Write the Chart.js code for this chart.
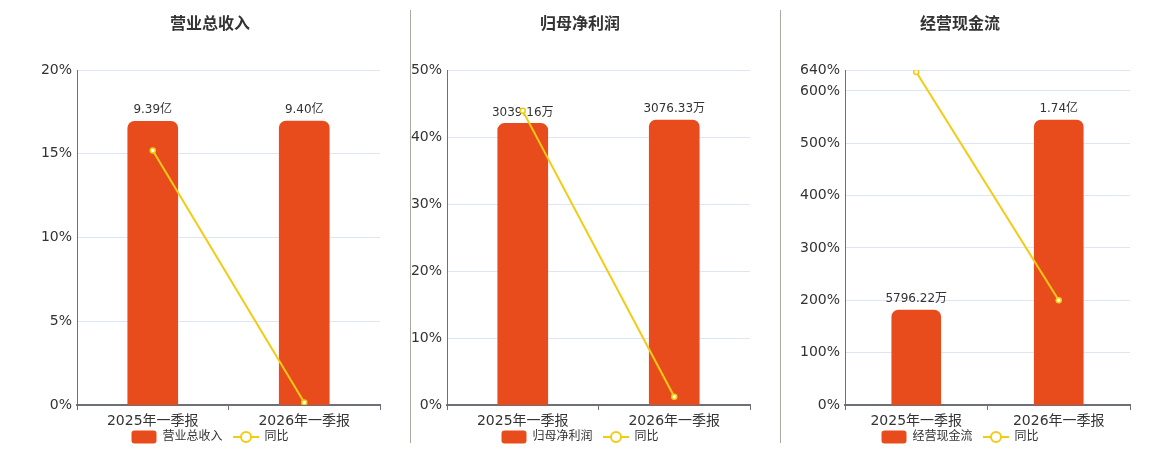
<!DOCTYPE html>
<html><head><meta charset="utf-8">
<script src="https://cdn.jsdelivr.net/npm/chart.js@4"></script>
<style>
html,body{margin:0;padding:0;background:#fff;width:1160px;height:450px;overflow:hidden;}
.p{position:absolute;top:0;height:450px;}
.div{position:absolute;top:10px;height:433px;width:1px;background:#aaa9a0;}
</style></head><body>
<div class="div" style="left:410px"></div>
<div class="div" style="left:780px"></div>
<div class="p" style="left:0;width:420px"><canvas id="c1"></canvas></div>
<div class="p" style="left:395px;width:370px"><canvas id="c2"></canvas></div>
<div class="p" style="left:780px;width:360px"><canvas id="c3"></canvas></div>
<script>
const categories = ['2025年一季报', '2026年一季报'];

const titles = ['营业总收入', '归母净利润', '经营现金流'];
// bar values (亿 / 万 / 万)
const revenueValues = [9.39, 9.40];
const profitValues = [3039.16, 3076.33];
const cashflowValues = [5796.22, 17400];
const revenueLabels = ['9.39亿', '9.40亿'];
const profitLabels = ['3039.16万', '3076.33万'];
const cashflowLabels = ['5796.22万', '1.74亿'];
// YoY %
const revenueYoY = [15.2, 0.15];
const profitYoY = [43.9, 1.22];
const cashflowYoY = [636, 200.2];
// y tick labels (%)
const revenueTicks = [0, 5, 10, 15, 20];
const profitTicks = [0, 10, 20, 30, 40, 50];
const cashflowTicks = [0, 100, 200, 300, 400, 500, 600, 640];

const BAR = '#E84C1C', LINE = '#F2CB13';
const FONT = '"DejaVu Sans","Noto Sans CJK SC",sans-serif';

function legendIcon(kind){
  const c = document.createElement('canvas');
  c.width = 26; c.height = 14;
  const x = c.getContext('2d');
  if (kind === 'bar') {
    x.fillStyle = BAR;
    x.beginPath(); x.roundRect(0.5, 0.5, 25, 13, 3); x.fill();
  } else {
    x.strokeStyle = LINE; x.lineWidth = 2;
    x.beginPath(); x.moveTo(0, 7); x.lineTo(26, 7); x.stroke();
    x.fillStyle = '#fff';
    x.beginPath(); x.arc(13, 7, 5, 0, Math.PI*2); x.fill(); x.stroke();
  }
  return c;
}

const labelPlugin = {
  id: 'barLabels',
  afterDatasetDraw(chart, args, opts) {
    if (args.index !== 0) return;
    const ctx = chart.ctx;
    ctx.save();
    ctx.font = '12px ' + FONT;
    ctx.fillStyle = '#333';
    ctx.textAlign = 'center';
    ctx.textBaseline = 'bottom';
    args.meta.data.forEach((el, i) => {
      ctx.fillText(opts.labels[i], el.x, el.y - 5);
    });
    ctx.restore();
  }
};

function make(id, title, bars, barLabels, yoy, ticks, barMax, leftW, rightW, barW) {
  new Chart(document.getElementById(id), {
    data: {
      labels: categories,
      datasets: [
        { type: 'bar', label: title, data: bars, yAxisID: 'y1', backgroundColor: BAR,
          barThickness: barW, borderRadius: {topLeft: 7, topRight: 7}, borderSkipped: 'bottom', order: 1 },
        { type: 'line', label: '同比', data: yoy, yAxisID: 'y', borderColor: LINE, borderWidth: 2,
          pointRadius: 2.5, pointBorderWidth: 1.5, pointBackgroundColor: '#fff', pointBorderColor: LINE,
          tension: 0, order: 0 }
      ]
    },
    options: {
      responsive: true, maintainAspectRatio: false, animation: false,
      layout: { padding: { left: 0, right: 0, top: 0, bottom: -3 } },
      plugins: {
        tooltip: { enabled: false },
        barLabels: { labels: barLabels },
        title: { display: true, text: title, color: '#333', font: { family: FONT, size: 16, weight: 'bold' },
          padding: { top: 15, bottom: 35.8 } },
        legend: {
          position: 'bottom',
          labels: {
            usePointStyle: true, pointStyleWidth: 25, padding: 11, color: '#333',
            font: { family: FONT, size: 12 },
            generateLabels: () => [
              { text: title, pointStyle: legendIcon('bar'), fillStyle: BAR, strokeStyle: BAR, lineWidth: 0, fontColor: '#333', datasetIndex: 0 },
              { text: '同比', pointStyle: legendIcon('line'), fillStyle: LINE, strokeStyle: LINE, lineWidth: 0, fontColor: '#333', datasetIndex: 1 }
            ]
          }
        }
      },
      scales: {
        x: {
          afterFit: s => { s.height = 15; s._computeLabelArea = () => null; },
          grid: { display: true, drawOnChartArea: false, drawTicks: true, tickLength: 5, offset: true, color: '#6E7079', lineWidth: 1 },
          border: { color: '#6E7079', width: 2 },
          ticks: { color: '#333', font: { family: FONT, size: 14 }, padding: 3 }
        },
        y: {
          position: 'left', min: 0, max: ticks[ticks.length - 1],
          afterBuildTicks: s => { s.ticks = ticks.map(v => ({ value: v })); },
          afterFit: s => { s.width = leftW; },
          grid: { color: '#E0E6F1', drawTicks: false },
          border: { display: true, color: '#6E7079', width: 1 },
          ticks: { color: '#333', font: { family: FONT, size: 14 }, padding: 5, callback: v => v + '%' }
        },
        y1: {
          position: 'right', min: 0, max: barMax, display: true,
          afterFit: s => { s.width = rightW; },
          grid: { display: false }, border: { display: false },
          ticks: { display: false }
        }
      }
    },
    plugins: [labelPlugin]
  });
}

make('c1', titles[0], revenueValues, revenueLabels, revenueYoY, revenueTicks, 11.09, 77, 40, 50);
make('c2', titles[1], profitValues, profitLabels, profitYoY, profitTicks, 3616, 52, 15, 50);
make('c3', titles[2], cashflowValues, cashflowLabels, cashflowYoY, cashflowTicks, 20452, 65, 10, 49);
</script>
</body></html>
